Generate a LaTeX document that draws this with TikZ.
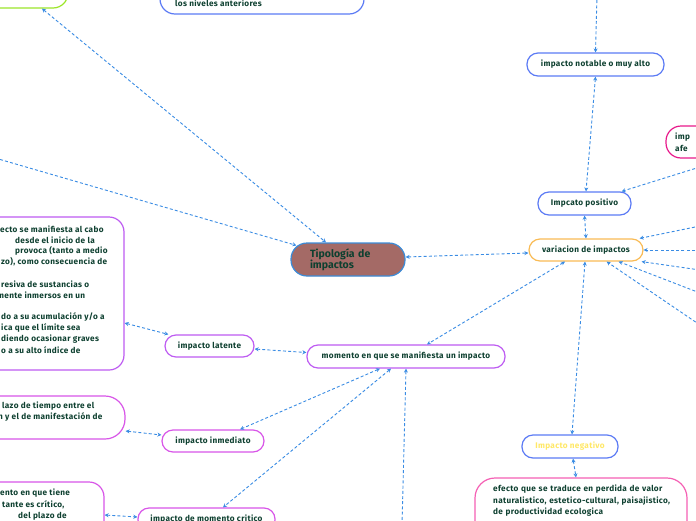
\documentclass[tikz,border=0pt]{standalone}
\usepackage{fontspec}
\setmainfont{Fira Sans}
\usetikzlibrary{arrows.meta}
\definecolor{txt}{HTML}{0E4030}
\definecolor{cgreen}{HTML}{9CE62A}
\definecolor{cblue}{HTML}{5C7BF5}
\definecolor{corange}{HTML}{F9BB55}
\definecolor{cpurple}{HTML}{BE5CF2}
\definecolor{cviolet}{HTML}{D856E8}
\definecolor{cpinkr}{HTML}{E8198B}
\definecolor{cpinkb}{HTML}{F560B4}
\definecolor{tborder}{HTML}{3D8BD6}
\definecolor{tfill}{HTML}{A46A66}
\definecolor{lnk}{HTML}{3A8CE4}
\definecolor{negtxt}{HTML}{FFE866}
\newcommand{\mmfont}{\fontsize{8.2}{9}\selectfont\bfseries\addfontfeature{LetterSpace=4}}
\tikzset{
  box/.style={draw, line width=1.2pt, rounded corners=11pt, inner sep=0pt,
    font=\mmfont, text=txt},
  bigbox/.style={draw, line width=1.2pt, rounded corners=15pt, inner sep=0pt},
  frag/.style={anchor=west, inner sep=0pt, font=\mmfont, text=txt},
  conn/.style={draw=lnk, line width=0.9pt, dash pattern=on 3pt off 2.2pt},
  both/.style={conn, arrows={Stealth[length=4pt,width=4pt]-Stealth[length=4pt,width=4pt]}},
  toend/.style={conn, arrows={-Stealth[length=4pt,width=4pt]}}
}
\begin{document}
\begin{tikzpicture}[x=1pt,y=-1pt]
\useasboundingbox (0,0) rectangle (696,520);
\fill[white] (0,0) rectangle (696,520);

% nodes
\node[bigbox, draw=cgreen, minimum width=118pt, minimum height=38pt] (green) at (9,-11) {};
\node[bigbox, draw=cblue, minimum width=204pt, minimum height=34pt] (toplevels) at (262,-3) {};
\node[frag] (toplevelstxt) at (175,3) {los niveles anteriores};

\node[box, draw=cblue, minimum width=137pt, minimum height=23pt] (notable) at (595.5,64.5) {impacto notable o muy alto};
\node[box, draw=cblue, minimum width=93pt, minimum height=23pt] (positivo) at (584.5,203.5) {Impcato positivo};
\node[bigbox, draw=cpinkr, minimum width=94pt, minimum height=32pt] (pinkr) at (713,142) {};
\node[frag] (pinkrtxta) at (675,137) {imp};
\node[frag] (pinkrtxtb) at (675,148) {afe};
\node[box, draw=corange, minimum width=114pt, minimum height=22pt] (variacion) at (586,250) {variacion de impactos};

\node[draw=tborder, fill=tfill, line width=1.2pt, rounded corners=16pt, inner sep=0pt,
  minimum width=114pt, minimum height=33pt, text width=76pt, align=left,
  font=\fontsize{10.5}{11}\selectfont\bfseries, text=txt] (tipo) at (348,259.5) {Tipología de\\impactos};

\node[bigbox, draw=cpurple, minimum width=184pt, minimum height=153pt] (bigleft) at (32,293.5) {};
\node[frag] (bl1) at (0,229) {ecto se manifiesta al cabo};
\node[frag] (bl2) at (15,240) {desde el inicio de la};
\node[frag] (bl3) at (15,251) {provoca (tanto a medio};
\node[frag] (bl4) at (1,262) {zo), como consecuencia de};
\node[frag] (bl5) at (1,284) {resiva de sustancias o};
\node[frag] (bl6) at (-3,295) {mente inmersos en un};
\node[frag] (bl7) at (1,317) {do a su acumulación y/o a};
\node[frag] (bl8) at (1,328) {ica que el límite sea};
\node[frag] (bl9) at (1,339) {diendo ocasionar graves};
\node[frag] (bl10) at (1,350) {o a su alto índice de};

\node[box, draw=cpurple, minimum width=89pt, minimum height=22pt] (latente) at (209.5,346) {impacto latente};
\node[box, draw=cpurple, minimum width=198pt, minimum height=23pt] (momento) at (406,356.5) {momento en que se manifiesta un impacto};

\node[bigbox, draw=cviolet, minimum width=185pt, minimum height=43pt, rounded corners=20pt] (inmdesc) at (32.5,417.5) {};
\node[frag] (id1) at (2,406) {lazo de tiempo entre el};
\node[frag] (id2) at (-2,417) {n y el de manifestación de};
\node[box, draw=cviolet, minimum width=102pt, minimum height=22pt] (inmediato) at (213,441) {impacto inmediato};

\node[bigbox, draw=cviolet, minimum width=164pt, minimum height=78pt] (critdesc) at (22,521) {};
\node[frag] (cd1) at (0,493) {ento en que tiene};
\node[frag] (cd2) at (2,505) {tante es crítico,};
\node[frag] (cd3) at (18,516) {del plazo de};
\node[box, draw=cviolet, minimum width=137pt, minimum height=23pt] (critico) at (206.5,519.5) {impacto de momento critico};

\node[box, draw=cblue, minimum width=96pt, minimum height=23pt, text=negtxt] (negativo) at (570,446.5) {Impacto negativo};
\node[bigbox, draw=cpinkb, minimum width=212pt, minimum height=67pt, rounded corners=20pt] (pinkb) at (581,511.5) {};
\node[anchor=north west, inner sep=0pt, text width=200pt, align=left,
  font=\fontsize{8.2}{11.3}\selectfont\bfseries\addfontfeature{LetterSpace=4}, text=txt] (pinkbtxt) at (493,485) {efecto que se traduce en perdida de valor\\naturalistico, estetico-cultural, paisajistico,\\de productividad ecologica};

% free ends
\coordinate (ctop) at (597,-5);
\coordinate (cleft) at (-5,158);
\coordinate (cpr) at (700,167);
\coordinate (r1) at (700,226);
\coordinate (r2) at (700,250);
\coordinate (r3) at (700,270);
\coordinate (r4) at (700,293);
\coordinate (r5) at (700,325);
\coordinate (cbot) at (402,525);

% connectors
\draw[toend] (ctop) -- (notable.north);
\draw[both] (notable.south) -- ([xshift=1.5pt]positivo.north);
\draw[both] (positivo.south) -- (variacion.north);
\draw[toend] (cpr) -- ([xshift=-10pt]positivo.north east);
\draw[toend] (r1) -- ([xshift=-4pt]variacion.north east);
\draw[toend] (r2) -- (variacion.east);
\draw[toend] (r3) -- ([xshift=-2pt]variacion.south east);
\draw[toend] (r4) -- ([xshift=-25pt]variacion.south east);
\draw[toend] (r5) -- ([xshift=-37pt]variacion.south east);
\draw[both] ([yshift=2.5pt]tipo.east) -- ([yshift=-3pt]variacion.west);
\draw[both] ([xshift=-21pt]variacion.south) -- ([xshift=21pt]momento.north);
\draw[both] ([xshift=-1pt]variacion.south) -- ([xshift=2pt]negativo.north);
\draw[both] ([xshift=3pt]negativo.south) -- ([xshift=-5pt]pinkb.north);
\draw[both] ([xshift=33pt]green.south) -- ([xshift=-22pt]tipo.north);
\draw[toend] (cleft) -- ([xshift=6pt,yshift=-3pt]tipo.north west);
\draw[both] ([yshift=-29.5pt]bigleft.east) -- ([xshift=4pt]latente.north west);
\draw[both] ([yshift=-3pt]latente.east) -- ([yshift=4pt]momento.west);
\draw[both] ([xshift=-26pt]momento.south) -- ([xshift=27pt]inmediato.north);
\draw[both] ([xshift=-15pt]momento.south) -- ([xshift=16.5pt]critico.north);
\draw[toend] (cbot) -- (momento.south);
\draw[both] ([yshift=-13.5pt]inmdesc.east) -- ([yshift=6pt]inmediato.west);
\draw[both] ([yshift=6pt]critdesc.east) -- ([yshift=2.5pt]critico.west);
\end{tikzpicture}
\end{document}
